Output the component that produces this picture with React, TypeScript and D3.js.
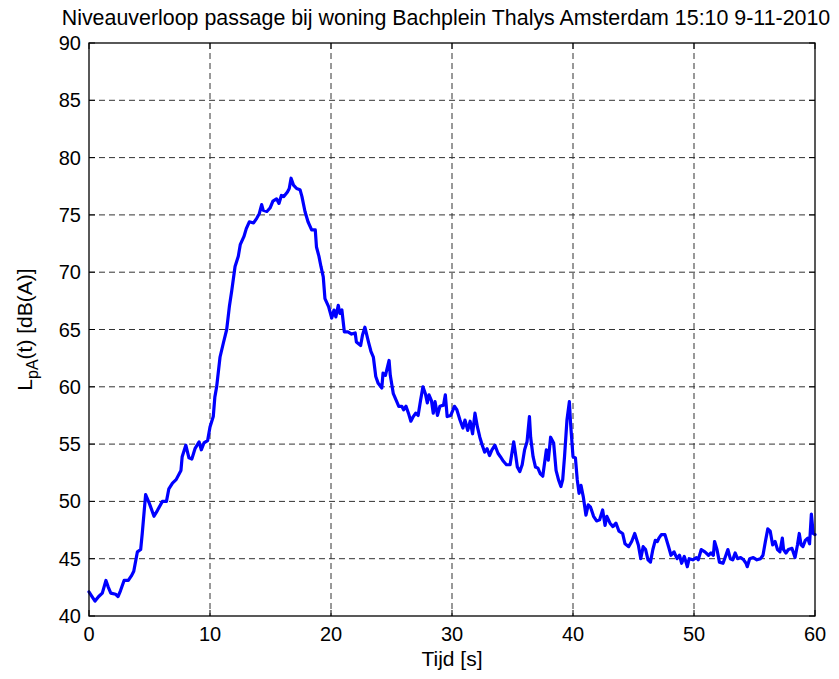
import React from "react";
import * as d3 from "d3";

const times: number[] = [
  0, 0.25, 0.5, 0.8, 1.1, 1.4, 1.6, 1.8, 2.2, 2.4, 2.6, 2.9, 3.25, 3.5, 3.7, 4.0, 4.27, 4.4, 4.68, 4.96,
  5.1, 5.37, 5.65, 6.06, 6.4, 6.6, 6.9, 7.2, 7.6, 7.7, 8.0, 8.26, 8.5, 8.76, 9.1, 9.28, 9.5, 9.8, 10.0, 10.27,
  10.4, 10.55, 10.83, 11.1, 11.38, 11.6, 11.8, 12.07, 12.34, 12.5, 12.8, 13.0, 13.25, 13.6, 13.86, 14.07, 14.27, 14.4, 14.7, 14.96,
  15.2, 15.5, 15.7, 15.9, 16.1, 16.4, 16.55, 16.7, 16.9, 17.16, 17.44, 17.6, 17.85, 18.1, 18.4, 18.7, 18.8, 19.0, 19.17, 19.36,
  19.5, 19.8, 20.06, 20.25, 20.4, 20.6, 20.74, 20.9, 21.1, 21.4, 21.7, 22.0, 22.1, 22.45, 22.6, 22.8, 23.1, 23.3, 23.5, 23.7,
  23.9, 24.2, 24.3, 24.5, 24.8, 24.9, 25.15, 25.4, 25.6, 25.85, 26.0, 26.2, 26.4, 26.6, 26.8, 27.0, 27.2, 27.4, 27.6, 27.8,
  27.96, 28.1, 28.3, 28.45, 28.6, 28.8, 29.0, 29.3, 29.45, 29.6, 29.9, 30.2, 30.4, 30.66, 30.9, 31.07, 31.3, 31.5, 31.7, 31.9,
  32.1, 32.3, 32.5, 32.7, 32.9, 33.1, 33.3, 33.55, 33.8, 34.0, 34.25, 34.5, 34.8, 35.1, 35.2, 35.4, 35.6, 35.8, 36.0, 36.2,
  36.4, 36.5, 36.7, 36.9, 37.1, 37.3, 37.5, 37.8, 37.96, 38.15, 38.4, 38.6, 38.8, 39.0, 39.15, 39.3, 39.5, 39.7, 39.8, 40.0,
  40.2, 40.35, 40.5, 40.66, 40.85, 41.07, 41.26, 41.45, 41.7, 41.95, 42.2, 42.45, 42.65, 42.8, 43.06, 43.3, 43.55, 43.8, 44.1, 44.3,
  44.6, 44.85, 45.1, 45.4, 45.6, 45.8, 46.0, 46.2, 46.4, 46.6, 46.8, 46.97, 47.1, 47.3, 47.6, 47.9, 48.1, 48.35, 48.6, 48.8,
  48.98, 49.2, 49.45, 49.6, 49.9, 50.2, 50.35, 50.6, 50.9, 51.2, 51.4, 51.6, 51.7, 51.9, 52.1, 52.4, 52.6, 52.8, 53.0, 53.2,
  53.4, 53.6, 53.85, 54.1, 54.3, 54.4, 54.6, 54.9, 55.2, 55.5, 55.7, 55.9, 56.1, 56.3, 56.5, 56.7, 56.9, 57.1, 57.3, 57.4,
  57.6, 57.8, 58.1, 58.35, 58.55, 58.7, 58.85, 59.0, 59.2, 59.4, 59.55, 59.7, 59.85, 60.0,
];

const levels: number[] = [
  42.1, 41.7, 41.3, 41.7, 42.0, 43.1, 42.5, 42.0, 41.9, 41.7, 42.2, 43.1, 43.1, 43.5, 43.9, 45.6, 45.8, 47.2, 50.6, 49.9,
  49.5, 48.7, 49.2, 50.0, 50.0, 51.1, 51.6, 51.9, 52.7, 53.9, 54.9, 53.8, 53.7, 54.6, 55.2, 54.5, 55.1, 55.3, 56.5, 57.4,
  59.1, 60.0, 62.6, 63.8, 65.0, 67.0, 68.4, 70.5, 71.4, 72.4, 73.1, 73.8, 74.4, 74.3, 74.7, 75.1, 75.9, 75.4, 75.3, 75.6,
  76.2, 76.4, 76.0, 76.7, 76.6, 77.0, 77.3, 78.2, 77.6, 77.3, 77.2, 76.6, 75.3, 74.4, 73.7, 73.7, 72.2, 71.4, 70.5, 69.6,
  67.7, 67.0, 66.0, 66.7, 66.1, 67.1, 66.4, 66.7, 64.8, 64.8, 64.6, 64.7, 63.9, 63.6, 64.5, 65.2, 63.9, 63.1, 62.6, 60.9,
  60.3, 59.9, 61.2, 61.0, 62.3, 61.0, 59.4, 58.8, 58.3, 58.3, 58.0, 58.3, 57.7, 57.0, 57.4, 57.7, 57.5, 58.8, 60.0, 59.4,
  58.6, 59.3, 58.8, 57.7, 58.7, 57.5, 58.3, 58.4, 59.3, 57.4, 57.5, 58.3, 58.0, 57.1, 56.4, 57.1, 56.2, 57.0, 55.9, 57.7,
  56.5, 55.6, 54.9, 54.3, 54.6, 54.0, 54.5, 54.9, 54.2, 53.9, 53.5, 53.2, 53.2, 55.2, 54.5, 53.0, 52.6, 53.2, 54.5, 55.2,
  57.4, 55.6, 53.9, 53.0, 52.9, 52.4, 52.2, 54.5, 53.6, 55.6, 55.1, 52.7, 51.9, 51.3, 51.9, 53.9, 57.1, 58.7, 56.8, 53.9,
  53.8, 51.9, 50.7, 51.4, 50.4, 48.8, 49.7, 49.5, 48.7, 48.3, 48.4, 49.25, 47.9, 48.7, 48.1, 47.8, 48.1, 47.4, 47.2, 46.3,
  46.05, 46.5, 47.2, 46.2, 45.0, 46.05, 45.8, 44.9, 44.7, 45.8, 46.6, 46.5, 46.8, 47.1, 47.1, 46.05, 45.3, 45.6, 45.0, 45.3,
  44.6, 45.2, 44.3, 45.0, 44.9, 45.1, 44.9, 45.8, 45.6, 45.3, 45.5, 45.3, 46.5, 45.8, 44.7, 44.6, 45.2, 45.8, 45.0, 44.9,
  45.5, 45.0, 45.1, 44.9, 44.6, 44.3, 45.0, 45.1, 44.9, 45.0, 45.3, 46.5, 47.6, 47.4, 46.2, 46.5, 45.8, 45.6, 46.8, 45.8,
  45.5, 45.8, 45.9, 45.1, 46.2, 47.2, 46.2, 46.05, 46.6, 46.8, 46.3, 48.9, 47.2, 47.1,
];

const xTicks: number[] = [0, 10, 20, 30, 40, 50, 60];
const yTicks: number[] = [40, 45, 50, 55, 60, 65, 70, 75, 80, 85, 90];

const titleText = "Niveauverloop passage bij woning Bachplein Thalys Amsterdam 15:10 9-11-2010";
const xLabel = "Tijd [s]";

export default function App() {
  const W = 839;
  const H = 679;
  const left = 89;
  const right = 815;
  const top = 43;
  const bottom = 616;
  const x = d3.scaleLinear().domain([0, 60]).range([left, right]);
  const y = d3.scaleLinear().domain([40, 90]).range([bottom, top]);
  const pts = times.map((t, i) => [t, levels[i]] as [number, number]);
  const line = d3
    .line<[number, number]>()
    .x((d) => x(d[0]))
    .y((d) => y(d[1]));
  const font = "'Liberation Sans', Arial, Helvetica, sans-serif";
  const tickLen = 6;
  return (
    <svg
      width={W}
      height={H}
      style={{ position: "absolute", left: 0, top: 0, background: "#fff" }}
      fontFamily={font}
    >
      <rect x={0} y={0} width={W} height={H} fill="#fff" />
      {/* grid */}
      {xTicks.slice(1, -1).map((t) => (
        <line key={"gx" + t} x1={x(t)} x2={x(t)} y1={top} y2={bottom} stroke="#333" strokeWidth={1} strokeDasharray="6,4" />
      ))}
      {yTicks.slice(1, -1).map((t) => (
        <line key={"gy" + t} x1={left} x2={right} y1={y(t)} y2={y(t)} stroke="#333" strokeWidth={1} strokeDasharray="6,4" />
      ))}
      {/* data */}
      <path d={line(pts) || ""} fill="none" stroke="#0000ff" strokeWidth={3.2} strokeLinejoin="round" strokeLinecap="round" />
      {/* box */}
      <rect x={left} y={top} width={right - left} height={bottom - top} fill="none" stroke="#000" strokeWidth={1.3} />
      {/* ticks */}
      {xTicks.map((t) => (
        <g key={"xt" + t}>
          <line x1={x(t)} x2={x(t)} y1={bottom} y2={bottom - tickLen} stroke="#000" />
          <line x1={x(t)} x2={x(t)} y1={top} y2={top + tickLen} stroke="#000" />
          <text x={x(t)} y={bottom + 25} fontSize={20} textAnchor="middle" fill="#000">
            {t}
          </text>
        </g>
      ))}
      {yTicks.map((t) => (
        <g key={"yt" + t}>
          <line x1={left} x2={left + tickLen} y1={y(t)} y2={y(t)} stroke="#000" />
          <line x1={right} x2={right - tickLen} y1={y(t)} y2={y(t)} stroke="#000" />
          <text x={left - 8} y={y(t) + 7} fontSize={20} textAnchor="end" fill="#000">
            {t}
          </text>
        </g>
      ))}
      {/* title */}
      <text x={446} y={25} fontSize={21.4} textAnchor="middle" fill="#000">
        {titleText}
      </text>
      {/* x label */}
      <text x={(left + right) / 2} y={666} fontSize={21} textAnchor="middle" fill="#000">
        {xLabel}
      </text>
      {/* y label */}
      <text transform={`translate(32, ${(top + bottom) / 2}) rotate(-90)`} fontSize={21} textAnchor="middle" fill="#000">
        <tspan>L</tspan>
        <tspan dy={6} fontSize={16}>pA</tspan>
        <tspan dy={-6}>(t) [dB(A)]</tspan>
      </text>
    </svg>
  );
}
